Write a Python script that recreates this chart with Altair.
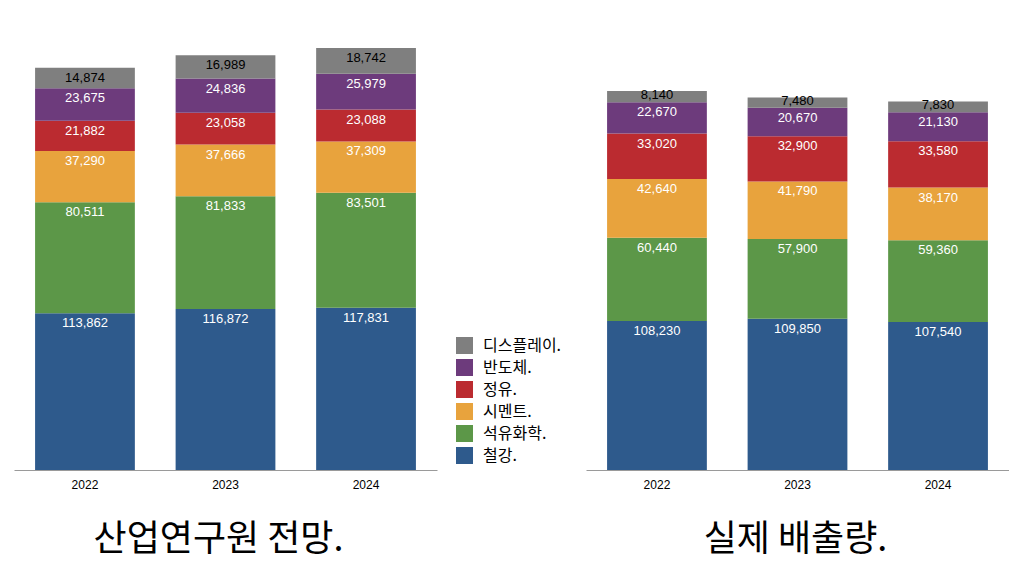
import altair as alt
import pandas as pd

years = ["2022", "2023", "2024"]
categories = ["철강.", "석유화학.", "시멘트.", "정유.", "반도체.", "디스플레이."]
legend_order = ["디스플레이.", "반도체.", "정유.", "시멘트.", "석유화학.", "철강."]
legend_colors = ["#7f7f7f", "#6d3b7c", "#bb2b30", "#e8a33d", "#5c9748", "#2e5a8c"]

# 산업연구원 전망
fc_steel = [113862, 116872, 117831]
fc_petchem = [80511, 81833, 83501]
fc_cement = [37290, 37666, 37309]
fc_refining = [21882, 23058, 23088]
fc_semi = [23675, 24836, 25979]
fc_display = [14874, 16989, 18742]

# 실제 배출량
ac_steel = [108230, 109850, 107540]
ac_petchem = [60440, 57900, 59360]
ac_cement = [42640, 41790, 38170]
ac_refining = [33020, 32900, 33580]
ac_semi = [22670, 20670, 21130]
ac_display = [8140, 7480, 7830]


def long_df(series):
    rows = []
    for i, (cat, vals) in enumerate(zip(categories, series)):
        for y, v in zip(years, vals):
            rows.append({"year": y, "category": cat, "value": v, "order": i})
    return pd.DataFrame(rows)


df_fc = long_df([fc_steel, fc_petchem, fc_cement, fc_refining, fc_semi, fc_display])
df_ac = long_df([ac_steel, ac_petchem, ac_cement, ac_refining, ac_semi, ac_display])

YMAX = 306450
PX_PER_UNIT = 422 / YMAX
OFF = 10 / PX_PER_UNIT


def panel(df, title, title_x):
    base = (
        alt.Chart(df)
        .transform_stack(
            stack="value",
            groupby=["year"],
            as_=["y0", "y1"],
            sort=[alt.SortField("order", "ascending")],
        )
        .transform_calculate(
            label_y=f"datum.value > 12000 ? datum.y1 - {OFF} : datum.y1 - datum.value * 0.33"
        )
    )
    x = alt.X(
        "year:N",
        sort=years,
        scale=alt.Scale(paddingInner=0.29, paddingOuter=0.15),
        axis=alt.Axis(
            title=title,
            labelAngle=0,
            ticks=False,
            domainColor="#9a9a9a",
            domainWidth=1,
            labelFontSize=12,
            labelFont="Liberation Sans",
            labelColor="black",
            labelPadding=9,
            titleFont="Noto Sans CJK KR",
            titleFontSize=36,
            titleFontWeight="normal",
            titleColor="black",
            titlePadding=32,
            titleX=title_x,
            titleAlign="center",
        ),
    )
    yscale = alt.Scale(domain=[0, YMAX], nice=False, zero=True)
    bars = base.mark_bar().encode(
        x=x,
        y=alt.Y("y0:Q", scale=yscale, axis=None),
        y2="y1:Q",
        color=alt.Color(
            "category:N",
            scale=alt.Scale(domain=legend_order, range=legend_colors),
            legend=alt.Legend(
                title=None,
                orient="none",
                legendX=442,
                legendY=289,
                symbolType="square",
                symbolSize=289,
                symbolStrokeWidth=0,
                symbolOpacity=1,
                labelFont="Noto Sans CJK KR",
                labelFontSize=16,
                labelColor="black",
                labelOffset=10,
                rowPadding=5,
                padding=0,
            ),
        ),
    )
    labels = base.mark_text(
        baseline="middle", fontSize=13, font="Liberation Sans"
    ).encode(
        x=x,
        y=alt.Y("label_y:Q", scale=yscale, axis=None),
        text=alt.Text("value:Q", format=","),
        color=alt.condition(
            alt.datum.category == "디스플레이.", alt.value("black"), alt.value("white")
        ),
    )
    return alt.layer(bars, labels).properties(width=423, height=422)


chart = (
    alt.hconcat(
        panel(df_fc, "산업연구원 전망.", 204),
        panel(df_ac, "실제 배출량.", 209),
        spacing=149,
    )
    .properties(padding={"left": 6, "top": 40, "right": 0, "bottom": 6})
    .configure_view(stroke=None)
)

chart.save("out.html", embed_options={"renderer": "svg", "actions": False})
